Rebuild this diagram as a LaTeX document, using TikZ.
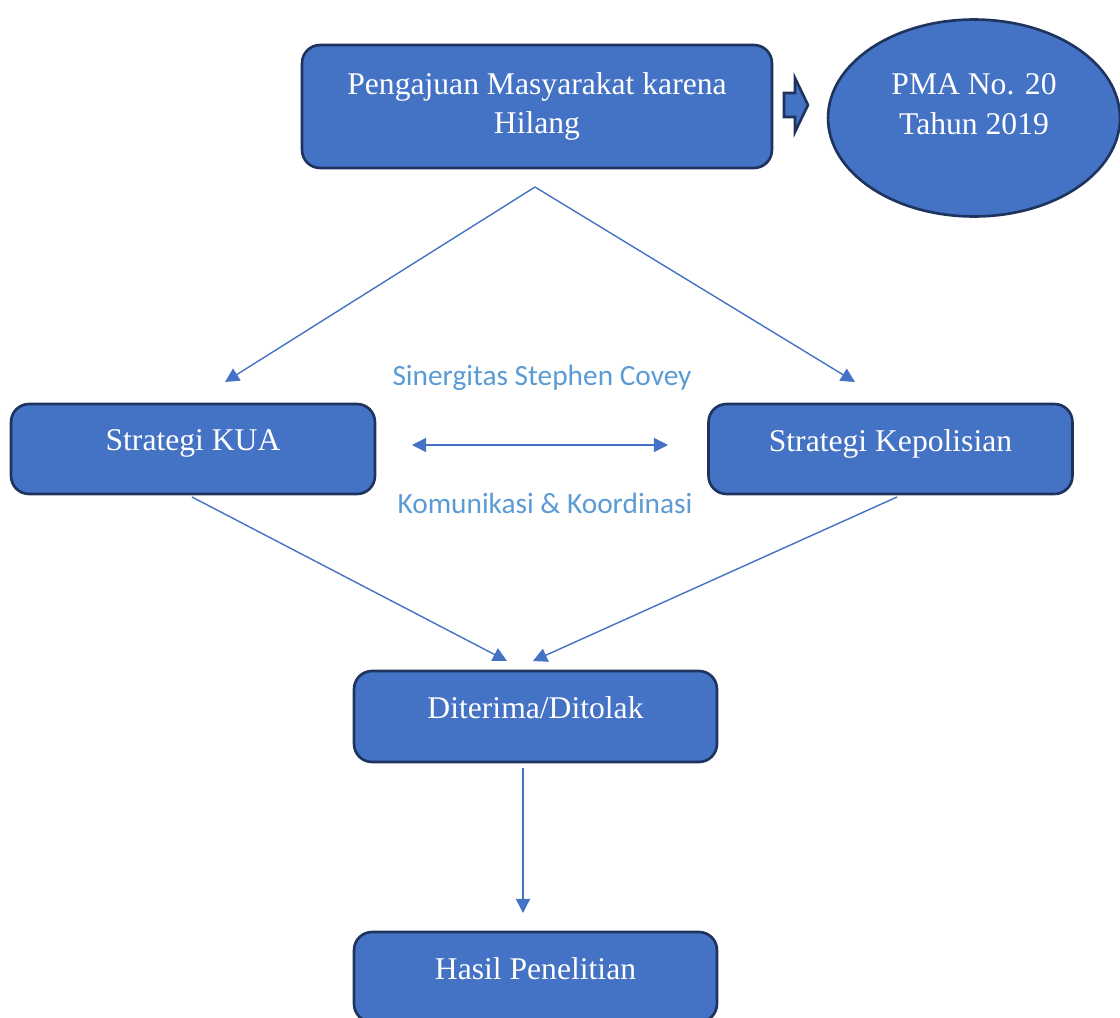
\documentclass[tikz,border=0pt]{standalone}
\usepackage{fontspec}
\setmainfont{Liberation Serif}
\newfontfamily\labelfont{Carlito}
\usetikzlibrary{shapes.geometric, arrows.meta, positioning, calc}
\definecolor{boxfill}{RGB}{68,114,196}
\definecolor{boxline}{RGB}{30,52,94}
\definecolor{link}{RGB}{68,114,196}
\definecolor{note}{RGB}{91,155,213}

\begin{document}
\begin{tikzpicture}[
      x=0.02cm, y=-0.02cm,
      stagebox/.style={rectangle, rounded corners=0.36cm, draw=boxline, fill=boxfill,
                    line width=1.5pt, text=white, inner sep=0pt,
                    font=\fontsize{18}{22.5}\selectfont},
      rule/.style={ellipse, draw=boxline, fill=boxfill, line width=1.5pt,
                   text=white, inner sep=0pt, align=center,
                   minimum width=5.84cm, minimum height=3.94cm,
                   font=\fontsize{18}{22.5}\selectfont},
      notelabel/.style={text=note, font=\labelfont\fontsize{16.7}{20}\selectfont},
      arr/.style={-{Triangle[length=8pt,width=8pt]}, line width=0.8pt, draw=link},
      dblarr/.style={{Triangle[length=8pt,width=8pt]}-{Triangle[length=8pt,width=8pt]},
                     line width=0.8pt, draw=link}
    ]
    \useasboundingbox (0,0) rectangle (1120,1018);
    \node[stagebox, align=center, minimum width=9.4cm, minimum height=2.46cm] (aduan) at (537,106.5)
         {Pengajuan Masyarakat karena\\Hilang};
    \node[rule, text depth=16pt] (pma) at (974,118) {PMA No. 20\\Tahun 2019};
    \node[stagebox, text depth=10pt, minimum width=7.28cm, minimum height=1.8cm] (kua) at (193,449) {Strategi KUA};
    \node[stagebox, text depth=10pt, minimum width=7.28cm, minimum height=1.8cm] (polisi) at (890.5,449) {Strategi Kepolisian};
    \node[stagebox, text depth=10pt, minimum width=7.26cm, minimum height=1.82cm] (putusan) at (535.5,716.5) {Diterima/Ditolak};
    \node[stagebox, text depth=10pt, minimum width=7.26cm, minimum height=1.8cm] (hasil) at (535.5,977) {Hasil Penelitian};

    % block pointer to the regulation
    \draw[boxline, fill=boxfill, line width=1.5pt, line join=miter]
         (784,93) -- (795,93) -- (795,78) -- (808,105) -- (795,132) -- (795,117) -- (784,117) -- cycle;

    \coordinate (split) at (535,187);
    \coordinate (kuain) at (225,382);
    \coordinate (polisiin) at (855,382);
    \coordinate (kuaout) at (192,497);
    \coordinate (polisiout) at (897,497);
    \coordinate (putusanin) at (507,661);
    \coordinate (putusanin2) at (533,661);
    \coordinate (putusanout) at (523,768);
    \coordinate (hasilin) at (523,913);
    \coordinate (sinL) at (412,445);
    \coordinate (sinR) at (668,445);

    \draw[arr] (split) -- (kuain);
    \draw[arr] (split) -- (polisiin);
    \draw[dblarr] (sinL) -- (sinR);
    \draw[arr] (kuaout) -- (putusanin);
    \draw[arr] (polisiout) -- (putusanin2);
    \draw[arr] (putusanout) -- (hasilin);

    \node[notelabel] (sinergi) at (542,378) {Sinergitas Stephen Covey};
    \node[notelabel] (komunikasi) at (545,503) {Komunikasi \& Koordinasi};
  \end{tikzpicture}
\end{document}
